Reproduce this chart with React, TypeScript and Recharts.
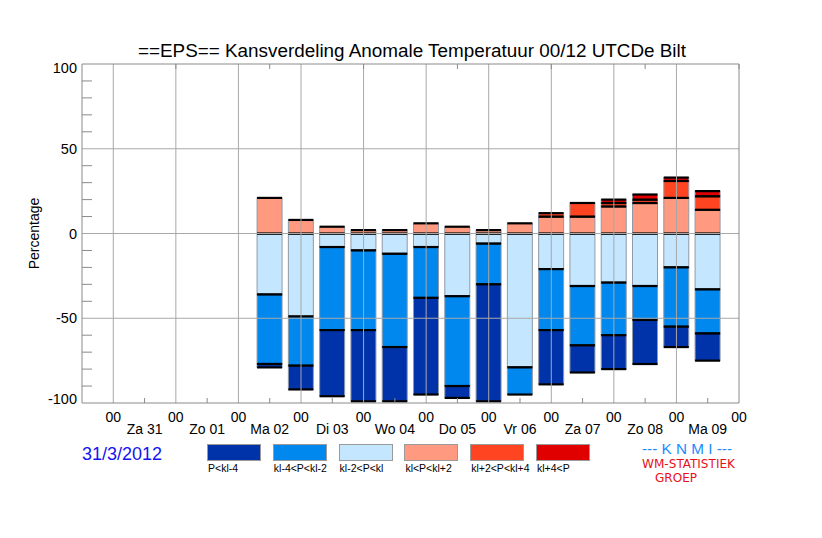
import React from 'react';
import { BarChart, Bar, XAxis, YAxis, ReferenceLine, Legend } from 'recharts';

// half-day slots: odd = 00 UTC, even = 12 UTC
const slots = [6, 7, 8, 9, 10, 11, 12, 13, 14, 15, 16, 17, 18, 19, 20];

// percentages per class
const klMin2 = [36, 49, 8, 10, 12, 8, 37, 6, 79, 21, 31, 29, 31, 20, 33];
const klMin4 = [41, 29, 49, 47, 55, 30, 53, 24, 16, 36, 35, 31, 20, 35, 26];
const belowMin4 = [2, 14, 39, 42, 32, 57, 7, 69, 0, 32, 16, 20, 26, 12, 16];
const klPlus2 = [21, 8, 4, 2, 2, 6, 4, 2, 6, 10, 10, 16, 18, 21, 14];
const klPlus4 = [0, 0, 0, 0, 0, 0, 0, 0, 0, 2, 8, 2, 2, 10, 8];
const abovePlus4 = [0, 0, 0, 0, 0, 0, 0, 0, 0, 0, 0, 2, 3, 2, 3];

const dayLabels = ['Za 31', 'Zo 01', 'Ma 02', 'Di 03', 'Wo 04', 'Do 05', 'Vr 06', 'Za 07', 'Zo 08', 'Ma 09'];
const bottomTicks = [1, 2, 3, 4, 5, 6, 7, 8, 9, 10, 11, 12, 13, 14, 15, 16, 17, 18, 19, 20, 21];
const topTicks = [2, 4, 6, 8, 10, 12, 14, 16, 18, 20];
const yTicks = [-100, -90, -80, -70, -60, -50, -40, -30, -20, -10, 0, 10, 20, 30, 40, 50, 60, 70, 80, 90, 100];
const gridX = [1, 3, 5, 7, 9, 11, 13, 15, 17, 19];
const gridY = [-50, 0, 50];

// stacking order (sign offset: negatives go down, positives go up)
const series = [
  { key: 'lb', name: 'kl-2<P<kl', color: '#c4e6ff', values: klMin2 },
  { key: 'b', name: 'kl-4<P<kl-2', color: '#0088ee', values: klMin4 },
  { key: 'db', name: 'P<kl-4', color: '#0033aa', values: belowMin4 },
  { key: 's', name: 'kl<P<kl+2', color: '#ff9980', values: klPlus2 },
  { key: 'o', name: 'kl+2<P<kl+4', color: '#ff4422', values: klPlus4 },
  { key: 'r', name: 'kl+4<P', color: '#e00000', values: abovePlus4 },
];
const legendOrder = ['db', 'b', 'lb', 's', 'o', 'r'];
const negativeKeys = ['lb', 'b', 'db'];

const chartData = slots.map((t, i) => {
  const row: any = { t };
  series.forEach((s) => {
    row[s.key] = negativeKeys.includes(s.key) ? -s.values[i] : s.values[i];
  });
  return row;
});

const FRAME = '#8a8a8a';
const GRID = '#a8a8a8';
const FONT = '"Liberation Sans", Arial, Helvetica, sans-serif';
const NARROW = '"Liberation Sans Narrow", "DejaVu Sans Condensed", sans-serif';

const Segment = (props: any) => {
  const { x, y, width, height, fill } = props;
  if (!height || Math.abs(height) < 0.1) return null;
  const top = Math.min(y, y + height);
  const h = Math.abs(height);
  return (
    <g>
      <rect x={x} y={top} width={width} height={h} fill={fill} stroke="#8f9ba8" strokeWidth={1} />
      <line x1={x} x2={x + width} y1={top} y2={top} stroke="#000" strokeWidth={2.2} />
      <line x1={x} x2={x + width} y1={top + h} y2={top + h} stroke="#000" strokeWidth={2.2} />
    </g>
  );
};

const LeftTick = ({ x, y, payload }: any) => {
  const v = payload.value;
  if (v % 50 === 0) {
    const shift = v === 100 ? 4 : v === -100 ? -4 : 0;
    return (
      <text x={x - 5} y={y + shift} dy={5} textAnchor="end" fontSize={14.5} fontFamily={FONT} fill="#000">
        {v}
      </text>
    );
  }
  return <line x1={x} x2={x + 10} y1={y} y2={y} stroke={FRAME} />;
};

const RightTick = ({ x, y, payload }: any) => {
  if (payload.value % 50 === 0) return null;
  return <line x1={x - 10} x2={x} y1={y} y2={y} stroke={FRAME} />;
};

const BottomTick = ({ x, y, payload }: any) => {
  const t = payload.value;
  if (t % 2 === 1) {
    return (
      <text x={x} y={y + 19} textAnchor="middle" fontSize={14} fontFamily={FONT} fill="#000">
        00
      </text>
    );
  }
  return (
    <g>
      <line x1={x} x2={x} y1={y} y2={y - 5} stroke={FRAME} />
      <text x={x} y={y + 31} textAnchor="middle" fontSize={14} fontFamily={FONT} fill="#000">
        {dayLabels[t / 2 - 1]}
      </text>
    </g>
  );
};

const TopTick = ({ x, y }: any) => <line x1={x} x2={x} y1={y} y2={y + 5} stroke={FRAME} />;

const YLabel = ({ viewBox }: any) => {
  const cx = viewBox.x + 12;
  const cy = viewBox.y + viewBox.height / 2;
  return (
    <text
      x={cx}
      y={cy}
      transform={`rotate(-90, ${cx}, ${cy})`}
      textAnchor="middle"
      dominantBaseline="central"
      fontSize={14}
      fontFamily={FONT}
      fill="#000"
    >
      Percentage
    </text>
  );
};

const LegendBoxes = () => (
  <div style={{ display: 'flex', fontFamily: FONT }}>
    {legendOrder.map((k) => {
      const s = series.find((d) => d.key === k)!;
      return (
        <div key={k} style={{ width: 65.8 }}>
          <div
            style={{
              width: 54,
              height: 17,
              background: s.color,
              border: '1px solid #9a9a9a',
              boxSizing: 'border-box',
            }}
          />
          <div style={{ fontSize: 10.5, lineHeight: '12px', marginTop: 1, paddingLeft: 1, whiteSpace: 'nowrap' }}>
            {s.name}
          </div>
        </div>
      );
    })}
  </div>
);

export default function App() {
  return (
    <div style={{ position: 'absolute', left: 0, top: 0, width: 822, height: 538, background: '#fff' }}>
      <BarChart
        width={822}
        height={538}
        data={chartData}
        stackOffset="sign"
        margin={{ top: 63, right: 82, bottom: 105, left: 22 }}
      >
        <XAxis
          dataKey="t"
          type="number"
          domain={[0, 21]}
          ticks={bottomTicks}
          interval={0}
          height={30}
          tickSize={0}
          tickMargin={0}
          tickLine={false}
          axisLine={{ stroke: FRAME }}
          tick={<BottomTick />}
        />
        <XAxis
          xAxisId="top"
          orientation="top"
          type="number"
          domain={[0, 21]}
          ticks={topTicks}
          interval={0}
          height={1}
          tickSize={0}
          tickMargin={0}
          tickLine={false}
          axisLine={{ stroke: FRAME }}
          tick={<TopTick />}
        />
        <YAxis
          type="number"
          domain={[-100, 100]}
          ticks={yTicks}
          interval={0}
          width={60}
          tickSize={0}
          tickMargin={0}
          tickLine={false}
          axisLine={{ stroke: FRAME }}
          tick={<LeftTick />}
          label={<YLabel />}
        />
        <YAxis
          yAxisId="right"
          orientation="right"
          type="number"
          domain={[-100, 100]}
          ticks={yTicks}
          interval={0}
          width={1}
          tickSize={0}
          tickMargin={0}
          tickLine={false}
          axisLine={{ stroke: FRAME }}
          tick={<RightTick />}
        />
        {gridX.map((g) => (
          <ReferenceLine key={'x' + g} x={g} stroke={GRID} strokeWidth={1} />
        ))}
        {gridY.map((g) => (
          <ReferenceLine key={'y' + g} y={g} stroke={GRID} strokeWidth={1} />
        ))}
        {series.map((s) => (
          <Bar
            key={s.key}
            dataKey={s.key}
            name={s.name}
            stackId="p"
            fill={s.color}
            barSize={25}
            shape={<Segment />}
            isAnimationActive={false}
          />
        ))}
        <Legend
          layout="horizontal"
          verticalAlign="middle"
          align="center"
          content={<LegendBoxes />}
          wrapperStyle={{ left: 207, top: 444, width: 420, height: 40 }}
        />
      </BarChart>
      <svg
        width={822}
        height={538}
        style={{ position: 'absolute', left: 0, top: 0, pointerEvents: 'none' }}
        fontFamily={FONT}
      >
        <text x={138} y={57} fontSize={17.5} fill="#000" textLength={548} lengthAdjust="spacingAndGlyphs">
          ==EPS== Kansverdeling Anomale Temperatuur 00/12 UTCDe Bilt
        </text>
        <text x={82} y={460} fontSize={18} fill="#1414f0">
          31/3/2012
        </text>
        <text x={642} y={454} fontSize={15} fill="#1a8cff" textLength={90} lengthAdjust="spacingAndGlyphs">
          --- K N M I ---
        </text>
        <text x={642} y={468} fontSize={11.5} fill="#e8101a" fontFamily={NARROW} textLength={93} lengthAdjust="spacingAndGlyphs">
          WM-STATISTIEK
        </text>
        <text x={655} y={482} fontSize={11.5} fill="#e8101a" fontFamily={NARROW} textLength={42} lengthAdjust="spacingAndGlyphs">
          GROEP
        </text>
      </svg>
    </div>
  );
}
